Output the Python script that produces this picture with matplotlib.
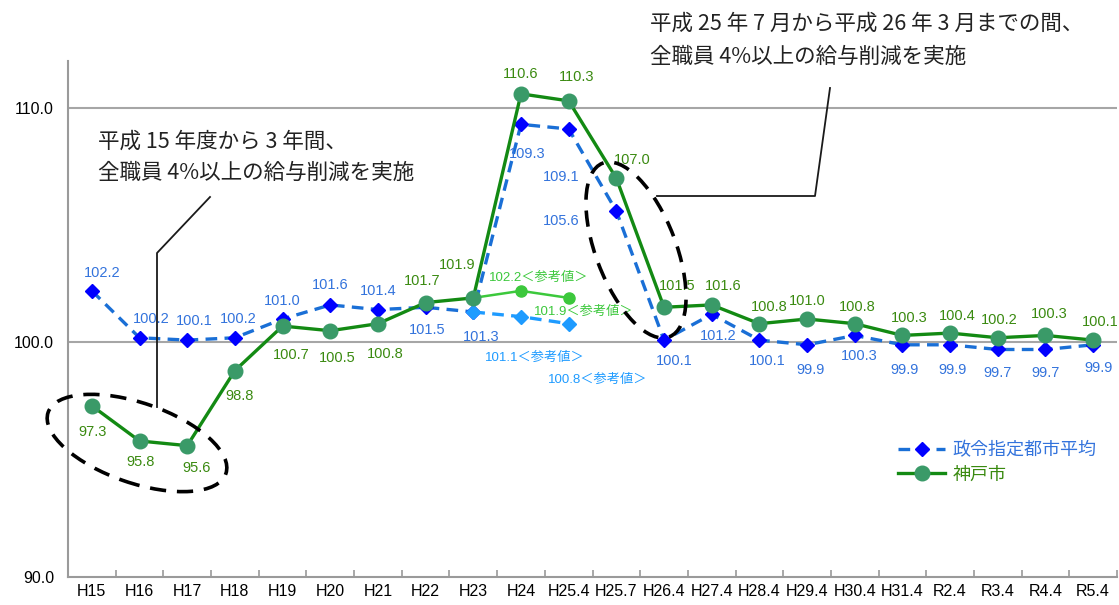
import matplotlib
matplotlib.use('Agg')
from matplotlib import pyplot as plt
from matplotlib.patches import Ellipse
from matplotlib.lines import Line2D
from matplotlib.transforms import IdentityTransform

W, H = 1119, 605

# ---- data ----
years = ['H15', 'H16', 'H17', 'H18', 'H19', 'H20', 'H21', 'H22', 'H23', 'H24', 'H25.4',
         'H25.7', 'H26.4', 'H27.4', 'H28.4', 'H29.4', 'H30.4', 'H31.4', 'R2.4', 'R3.4', 'R4.4', 'R5.4']
city_avg = [102.2, 100.2, 100.1, 100.2, 101.0, 101.6, 101.4, 101.5, 101.3, 109.3, 109.1,
            105.6, 100.1, 101.2, 100.1, 99.9, 100.3, 99.9, 99.9, 99.7, 99.7, 99.9]
kobe = [97.3, 95.8, 95.6, 98.8, 100.7, 100.5, 100.8, 101.7, 101.9, 110.6, 110.3,
        107.0, 101.5, 101.6, 100.8, 101.0, 100.8, 100.3, 100.4, 100.2, 100.3, 100.1]
ref_idx = [8, 9, 10]
kobe_ref = [101.9, 102.2, 101.9]
avg_ref = [101.3, 101.1, 100.8]

# label offsets in pixels (dx right, dy down)
avg_off = [(10, -18), (12, -19), (7, -19), (3, -19), (0, -18), (0, -20), (0, -19), (2, 23),
           (8, 25), (6, 30), (-7, 48), (-55, 10), (10, 21), (6, 22), (8, 21), (3, 25),
           (5, 21), (2, 25), (2, 25), (0, 24), (0, 24), (5, 23)]
kobe_off = [(1, 26), (1, 21), (9, 22), (5, 25), (9, 29), (7, 27), (7, 30), (-3, -22),
            (-16, -33), (0, -20), (8, -24), (16, -18), (13, -21), (11, -19), (10, -17),
            (0, -18), (2, -17), (7, -17), (7, -17), (1, -18), (4, -21), (7, -18)]
kobe_ref_off = [None, (18, -13), (15, 14)]
avg_ref_off = [None, (14, 41), (29, 56)]

C_AVG_LINE = '#1a6fd6'
C_AVG_MK = '#0000ff'
C_AVG_TXT = '#3373dc'
C_KOBE_LINE = '#138a13'
C_KOBE_MK = '#3a9a68'
C_KOBE_TXT = '#3a8a10'
C_KREF = '#3cc83c'
C_AREF = '#1e9bff'

NUM_FONT = ['Liberation Sans', 'Noto Sans CJK JP']
JP_FONT = ['Noto Sans CJK JP', 'DejaVu Sans']

fig = plt.figure(figsize=(W / 100, H / 100), dpi=100)
ax = fig.add_axes([68 / W, 1 - 577 / H, (1117 - 68) / W, (577 - 61) / H])
x = list(range(len(years)))

ax.set_xlim(-0.5, len(years) - 0.5)
ax.set_ylim(90, 112)

for g in [100, 110]:
    ax.axhline(g, color='#a6a6a6', lw=1.5, zorder=1)

avg_line, = ax.plot(x, city_avg, color=C_AVG_LINE, lw=2.4, dashes=(3.5, 2.2), marker='D', ms=7,
                    mfc=C_AVG_MK, mec=C_AVG_MK, zorder=3, label='政令指定都市平均')
ax.plot(ref_idx, avg_ref, color=C_AREF, lw=2.4, dashes=(3.5, 2.2), marker='D', ms=7,
        mfc=C_AREF, mec=C_AREF, zorder=3)
ax.plot(ref_idx, kobe_ref, color=C_KREF, lw=1.8, marker='o', ms=8,
        mfc=C_KREF, mec=C_KREF, zorder=4)
kobe_line, = ax.plot(x, kobe, color=C_KOBE_LINE, lw=2.4, marker='o', ms=10.5,
                     mfc=C_KOBE_MK, mec=C_KOBE_MK, zorder=5, label='神戸市')

for i, v in enumerate(city_avg):
    dx, dy = avg_off[i]
    ax.annotate(f'{v:.1f}', (i, v), xytext=(dx, -dy), textcoords='offset pixels',
                ha='center', va='center', fontsize=10.5, color=C_AVG_TXT, family=NUM_FONT, zorder=6)
for i, v in enumerate(kobe):
    dx, dy = kobe_off[i]
    ax.annotate(f'{v:.1f}', (i, v), xytext=(dx, -dy), textcoords='offset pixels',
                ha='center', va='center', fontsize=10.5, color=C_KOBE_TXT, family=NUM_FONT, zorder=6)
for k, i in enumerate(ref_idx):
    if kobe_ref_off[k] is not None:
        dx, dy = kobe_ref_off[k]
        ax.annotate(f'{kobe_ref[k]:.1f}＜参考値＞', (i, kobe_ref[k]), xytext=(dx, -dy),
                    textcoords='offset pixels', ha='center', va='center', fontsize=9.5,
                    color=C_KREF, family=NUM_FONT, zorder=6)
    if avg_ref_off[k] is not None:
        dx, dy = avg_ref_off[k]
        ax.annotate(f'{avg_ref[k]:.1f}＜参考値＞', (i, avg_ref[k]), xytext=(dx, -dy),
                    textcoords='offset pixels', ha='center', va='center', fontsize=9.5,
                    color=C_AREF, family=NUM_FONT, zorder=6)

# axes styling
for s in ['top', 'right']:
    ax.spines[s].set_visible(False)
for s in ['left', 'bottom']:
    ax.spines[s].set_color('#9a9a9a')
    ax.spines[s].set_linewidth(1.5)
ax.set_yticks([90, 100, 110])
ax.set_yticklabels(['90.0', '100.0', '110.0'], family=NUM_FONT, fontsize=11.5)
ax.tick_params(axis='y', length=0, pad=10)
ax.set_xticks(x)
ax.set_xticklabels(years, family=NUM_FONT, fontsize=11.5)
ax.set_xticks([i - 0.5 for i in range(len(years) + 1)], minor=True)
ax.tick_params(axis='x', which='major', length=0, pad=5)
ax.tick_params(axis='x', which='minor', direction='in', length=5, color='#9a9a9a', width=1.2)

ax.legend(handles=[avg_line, kobe_line], loc='upper left', bbox_to_anchor=(882 / W, 1 - 425 / H),
          bbox_transform=fig.transFigure, frameon=False, handlelength=2.6, fontsize=13,
          prop={'family': JP_FONT, 'size': 13}, labelcolor=[C_AVG_TXT, C_KOBE_TXT],
          labelspacing=0.35, handletextpad=0.4)


# dashed ellipses (pixel coords, y from top)
for cx, cy, w, h, ang in [(137, 443, 188, 80, -19), (636, 250, 186, 80, -69)]:
    e = Ellipse((cx, H - cy), w, h, angle=ang, transform=IdentityTransform(), fill=False,
                ec='black', lw=2.6, ls=(0, (4.5, 3)), zorder=7)
    fig.add_artist(e)

# callout lines
for pts in [[(157, 407), (157, 253), (210, 197)], [(657, 196), (815, 196), (830, 88)]]:
    xs = [p[0] for p in pts]
    ys = [H - p[1] for p in pts]
    fig.add_artist(Line2D(xs, ys, transform=IdentityTransform(), color='#1a1a1a', lw=1.3))

# annotation texts
notes = [
    (98, 142, '平成 15 年度から 3 年間、'),
    (98, 173, '全職員 4%以上の給与削減を実施'),
    (650, 24, '平成 25 年 7 月から平成 26 年 3 月までの間、'),
    (650, 57, '全職員 4%以上の給与削減を実施'),
]
for xp, yp, t in notes:
    fig.text(xp / W, 1 - yp / H, t, ha='left', va='center', fontsize=15.5,
             family=JP_FONT, color='#222222')

fig.savefig('out.png', dpi=100)
